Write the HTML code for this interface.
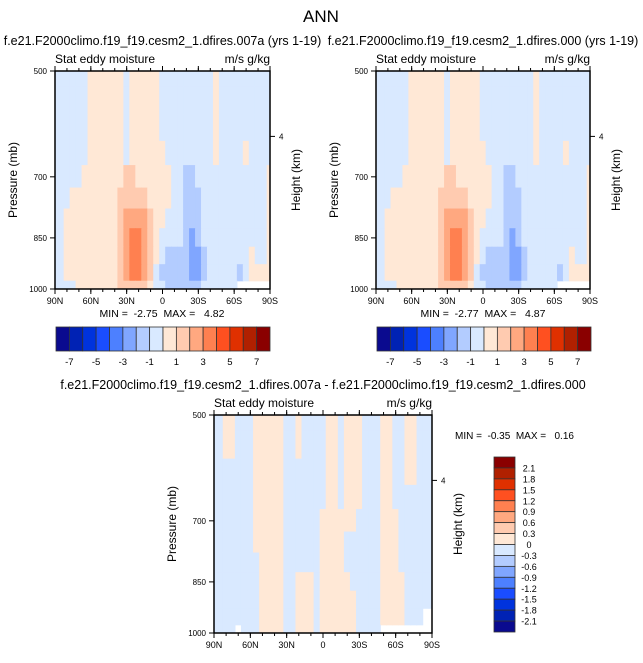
<!DOCTYPE html>
<html><head><meta charset="utf-8"><style>
body{margin:0;background:#fff;font-family:"Liberation Sans",sans-serif;}
svg text{font-family:"Liberation Sans",sans-serif;fill:#000;white-space:pre;}
</style></head><body>
<svg id="c" width="643" height="658" xmlns="http://www.w3.org/2000/svg">
<text x="321" y="22" font-size="17" text-anchor="middle">ANN</text>
</svg>
<script>
const latLabels=["90N","60N","30N","0","30S","60S","90S"];
const presTicks=[500,700,850,1000];
const levels=[500,550,600,650,700,750,800,850,900,950,1000];
const lats=[90,85,80,75,70,65,60,55,50,45,40,35,30,25,20,15,10,5,0,-5,-10,-15,-20,-25,-30,-35,-40,-45,-50,-55,-60,-65,-70,-75,-80,-85,-90];
const cbColors=["#0a0a8f","#0022b4","#0033dd","#1a4dff","#4d80ff","#80a6ff","#b3ccff","#d9e9ff","#ffe8d6","#ffcbb0","#ffa880","#ff8050","#ff5020","#e03000","#b02000","#8a0000"];
const cbLabels1=["-7","-5","-3","-1","1","3","5","7"];
const cbLabels3=["2.1","1.8","1.5","1.2","0.9","0.6","0.3","0","-0.3","-0.6","-0.9","-1.2","-1.5","-1.8","-2.1"];
const b=-0.5,p=0.5,N=null,o=1.5,r=2.5,d=3.5,m=-1.5,k=-2.5;
const field1=[
[b,b,b,b,b,b,p,p,p,p,p,p,b,p,p,p,p,p,b,b,b,b,b,b,b,b,b,p,b,b,b,b,b,b,b,b,b],
[b,b,b,b,b,b,p,p,p,p,p,p,b,p,p,p,p,p,b,b,b,b,b,b,b,b,b,p,b,b,b,b,b,b,b,b,b],
[b,b,b,b,b,b,p,p,p,p,p,p,b,p,p,p,p,p,b,b,b,b,b,b,b,b,b,p,b,b,b,b,b,b,b,b,b],
[b,b,b,b,b,b,p,p,p,p,p,p,b,p,p,p,p,p,p,b,b,b,b,b,b,b,b,p,b,b,b,b,p,b,b,b,b],
[b,b,b,b,b,p,p,p,p,p,p,p,o,o,p,p,p,p,p,p,b,b,m,m,b,b,b,b,b,b,b,b,b,b,b,b,p],
[b,b,b,p,p,p,p,p,p,p,p,o,o,o,o,o,p,p,p,p,b,b,m,m,m,b,b,b,b,b,b,b,b,b,b,b,p],
[b,b,p,p,p,p,p,p,p,p,p,o,r,r,r,r,o,p,p,b,b,b,m,m,m,b,b,b,b,b,b,b,b,b,b,b,p],
[b,b,p,p,p,p,p,p,p,p,p,o,r,d,d,r,o,p,b,b,b,b,m,k,m,b,b,b,b,b,b,b,b,b,b,b,p],
[b,b,p,p,p,p,p,p,p,p,p,o,r,d,d,r,o,p,b,m,m,m,m,k,k,m,b,b,b,b,b,b,b,p,b,b,p],
[b,b,p,p,p,p,p,p,p,p,p,o,r,d,d,r,o,b,m,m,m,m,m,k,k,m,b,b,b,b,b,m,b,p,p,p,p],
[b,b,b,b,p,p,p,p,p,p,p,o,o,o,o,o,p,b,b,m,m,m,m,m,m,b,b,b,b,b,b,N,N,N,N,N,N]];
const field2=[
[b,b,b,b,b,b,p,p,p,p,p,p,b,p,p,p,p,p,b,b,b,b,b,b,b,b,b,p,b,b,b,b,b,b,b,b,b],
[b,b,b,b,b,b,p,p,p,p,p,p,b,p,p,p,p,p,b,b,b,b,b,b,b,b,b,p,b,b,b,b,b,b,b,b,b],
[b,b,b,b,b,b,p,p,p,p,p,p,b,p,p,p,p,p,b,b,b,b,b,b,b,b,b,p,b,b,b,b,b,b,b,b,b],
[b,b,b,b,b,b,p,p,p,p,p,p,b,p,p,p,p,p,p,b,b,b,b,b,b,b,b,p,b,b,b,b,p,b,b,b,b],
[b,b,b,b,b,p,p,p,p,p,p,p,o,o,p,p,p,p,p,p,b,b,m,m,b,b,b,b,b,b,b,b,b,b,b,b,p],
[b,b,b,p,p,p,p,p,p,p,p,o,o,o,o,o,p,p,p,p,b,b,m,m,m,b,b,b,b,b,b,b,b,b,b,b,p],
[b,b,p,p,p,p,p,p,p,p,p,o,r,r,r,r,o,p,p,b,b,b,m,m,m,b,b,b,b,b,b,b,b,b,b,b,p],
[b,b,p,p,p,p,p,p,p,p,p,o,r,d,d,r,o,p,b,b,b,b,m,k,m,b,b,b,b,b,b,b,b,b,b,b,p],
[b,b,p,p,p,p,p,p,p,p,p,o,r,d,d,r,o,p,b,m,m,m,m,k,k,m,b,b,b,b,b,b,b,p,b,b,p],
[b,b,p,p,p,p,p,p,p,p,p,o,r,d,d,r,o,b,m,m,m,m,m,k,k,m,b,b,b,b,b,m,b,p,p,p,p],
[b,b,b,b,p,p,p,p,p,p,p,o,o,o,o,o,p,b,b,m,m,m,m,m,m,b,b,b,b,b,b,N,N,N,N,N,N]];
const s=-0.15,q=0.1;
const field3=[
[s,s,q,q,s,s,s,q,q,q,q,q,s,s,q,s,s,s,s,q,q,s,q,q,q,s,s,s,q,q,s,s,q,q,s,s,s],
[s,s,q,q,s,s,s,q,q,q,q,q,s,s,q,s,s,s,s,q,q,s,q,q,q,s,s,s,q,q,s,s,q,q,s,s,s],
[s,s,s,s,s,s,s,q,q,q,q,q,s,s,s,s,s,s,s,q,q,s,q,q,q,s,s,s,q,q,s,s,q,q,s,s,s],
[s,s,s,s,s,s,s,q,q,q,q,q,s,s,s,s,s,s,s,q,q,s,q,q,q,s,s,s,q,q,s,s,s,s,s,s,s],
[s,s,s,s,s,s,s,q,q,q,q,q,s,s,s,s,s,s,q,q,q,q,q,q,s,s,s,s,q,q,q,s,s,s,s,s,s],
[s,s,s,s,s,s,s,q,q,q,q,q,s,s,s,s,s,s,q,q,q,q,s,s,s,s,s,s,q,q,q,s,s,s,s,s,s],
[s,s,s,s,s,s,s,s,q,q,q,q,s,s,s,s,s,s,q,q,q,q,s,s,s,s,s,s,q,q,q,s,s,s,s,s,s],
[s,s,s,s,s,s,s,s,q,q,q,q,s,s,q,q,q,s,q,q,q,q,q,s,s,s,s,s,q,q,q,q,s,s,s,s,s],
[s,s,s,s,s,s,s,s,q,q,q,q,s,s,q,q,q,s,q,q,q,q,q,q,s,s,s,s,q,q,q,q,s,s,s,s,s],
[s,s,s,s,s,s,s,s,q,q,q,q,s,s,q,q,q,s,q,q,q,q,q,q,s,s,s,s,q,q,q,q,s,s,s,N,N],
[s,s,s,s,N,s,s,s,q,q,q,q,s,s,q,q,q,s,q,q,q,q,q,q,s,s,s,s,N,N,N,N,N,N,N,N,N]];
const NS="http://www.w3.org/2000/svg";
const svg=document.getElementById('c');
function el(t,a,parent){const e=document.createElementNS(NS,t);for(const kk in a)e.setAttribute(kk,a[kk]);(parent||svg).appendChild(e);return e;}
function txt(x,y,str,size,anchor,parent){const t=el('text',{x:x,y:y,'font-size':size,'text-anchor':anchor||'start'},parent);t.textContent=str;return t;}
function colorIdx(v,step){let i=Math.floor(v/step)+8;return Math.max(0,Math.min(15,i));}
function panel(x0,y0,w,h,field,step,title,name){
 const g=el('g',{});
 
 
 const xs=lat=>x0+(90-lat)/180*w;
 const ys=pr=>y0+(Math.log(pr)-Math.log(500))/(Math.log(1000)-Math.log(500))*h;
 const clip=el('clipPath',{id:'cl'+name},g);el('rect',{x:x0,y:y0,width:w,height:h},clip);
 const cg=el('g',{'clip-path':'url(#cl'+name+')'},g);
 for(let ri=0;ri<levels.length;ri++){
  const pt=ri==0?levels[0]:(levels[ri-1]+levels[ri])/2, pb=ri==levels.length-1?levels[ri]:(levels[ri]+levels[ri+1])/2;
  for(let c=0;c<lats.length;c++){
   const v=field[ri][c]; if(v===null)continue;
   const x1=xs(lats[c]+2.5),x2=xs(lats[c]-2.5);
   const rc=el('rect',{x:x1-0.3,y:ys(pt)-0.3,width:x2-x1+0.6,height:ys(pb)-ys(pt)+0.6,fill:cbColors[colorIdx(v,step)]},cg);
   
   
  }
 }
 el('rect',{x:x0,y:y0,width:w,height:h,fill:'none',stroke:'#000','stroke-width':1.5},g);
 latLabels.forEach((l,i)=>{const x=x0+i*w/6;el('line',{x1:x,x2:x,y1:y0+h,y2:y0+h+5,stroke:'#000'},g);el('line',{x1:x,x2:x,y1:y0,y2:y0-5,stroke:'#000'},g);
  const t=txt(x,y0+h+15,l,9,'middle',g);});
 for(let i=0;i<18;i++){const x=x0+i*w/18;el('line',{x1:x,x2:x,y1:y0+h,y2:y0+h+3,stroke:'#000'},g);el('line',{x1:x,x2:x,y1:y0,y2:y0-3,stroke:'#000'},g);}
 presTicks.forEach(pr=>{const y=ys(pr);el('line',{x1:x0-5,x2:x0,y1:y,y2:y,stroke:'#000'},g);
  const t=txt(x0-8,y+3,String(pr),8,'end',g);});
 const yh=y0+h*0.3;el('line',{x1:x0+w,x2:x0+w+5,y1:yh,y2:yh,stroke:'#000'},g);txt(x0+w+9,yh+3,'4',8,'start',g);
 const yt=txt(0,0,'Pressure (mb)',12,'middle',g);yt.setAttribute('transform',`translate(${x0-38},${y0+h/2}) rotate(-90)`);
 
 const yr=txt(0,0,'Height (km)',12,'middle',g);yr.setAttribute('transform',`translate(${x0+w+30},${y0+h/2}) rotate(-90)`);
 
 txt(x0,y0-8,'Stat eddy moisture',12,'start',g);txt(x0+w,y0-8,'m/s g/kg',12,'end',g);
 const tt=txt(x0+w/2,y0-26,title,12.5,'middle',g);
}
function hbar(x0,y0,w,h,name){
 const g=el('g',{});
 const cw=w/16;cbColors.forEach((c,i)=>el('rect',{x:x0+i*cw,y:y0,width:cw,height:h,fill:c,stroke:'#333','stroke-width':0.8},g));
 cbLabels1.forEach((l,i)=>txt(x0+cw*(1+2*i),y0+h+14,l,9.5,'middle',g));
}
panel(55,71,215,218,field1,1,'f.e21.F2000climo.f19_f19.cesm2_1.dfires.007a (yrs 1-19)','panel-left');
panel(376,71,214,218,field2,1,'f.e21.F2000climo.f19_f19.cesm2_1.dfires.000 (yrs 1-19)','panel-right');
panel(214,415,218,218,field3,0.3,'f.e21.F2000climo.f19_f19.cesm2_1.dfires.007a - f.e21.F2000climo.f19_f19.cesm2_1.dfires.000','panel-diff');
txt(162,317,'MIN =  -2.75  MAX =   4.82',10.5,'middle');
txt(483,317,'MIN =  -2.77  MAX =   4.87',10.5,'middle');
txt(455,439,'MIN =  -0.35  MAX =   0.16',10,'start');
hbar(56,327,214,24,'colorbar-left');
hbar(377,327,214,24,'colorbar-right');
const vg=el('g',{});
const vh=175/16;
for(let i=0;i<16;i++)el('rect',{x:494,y:457+i*vh,width:21,height:vh,fill:cbColors[15-i],stroke:'#333','stroke-width':0.8},vg);
cbLabels3.forEach((l,i)=>txt(529,457+(i+1)*vh+3.5,l,9,'middle',vg));
</script>
</body></html>
